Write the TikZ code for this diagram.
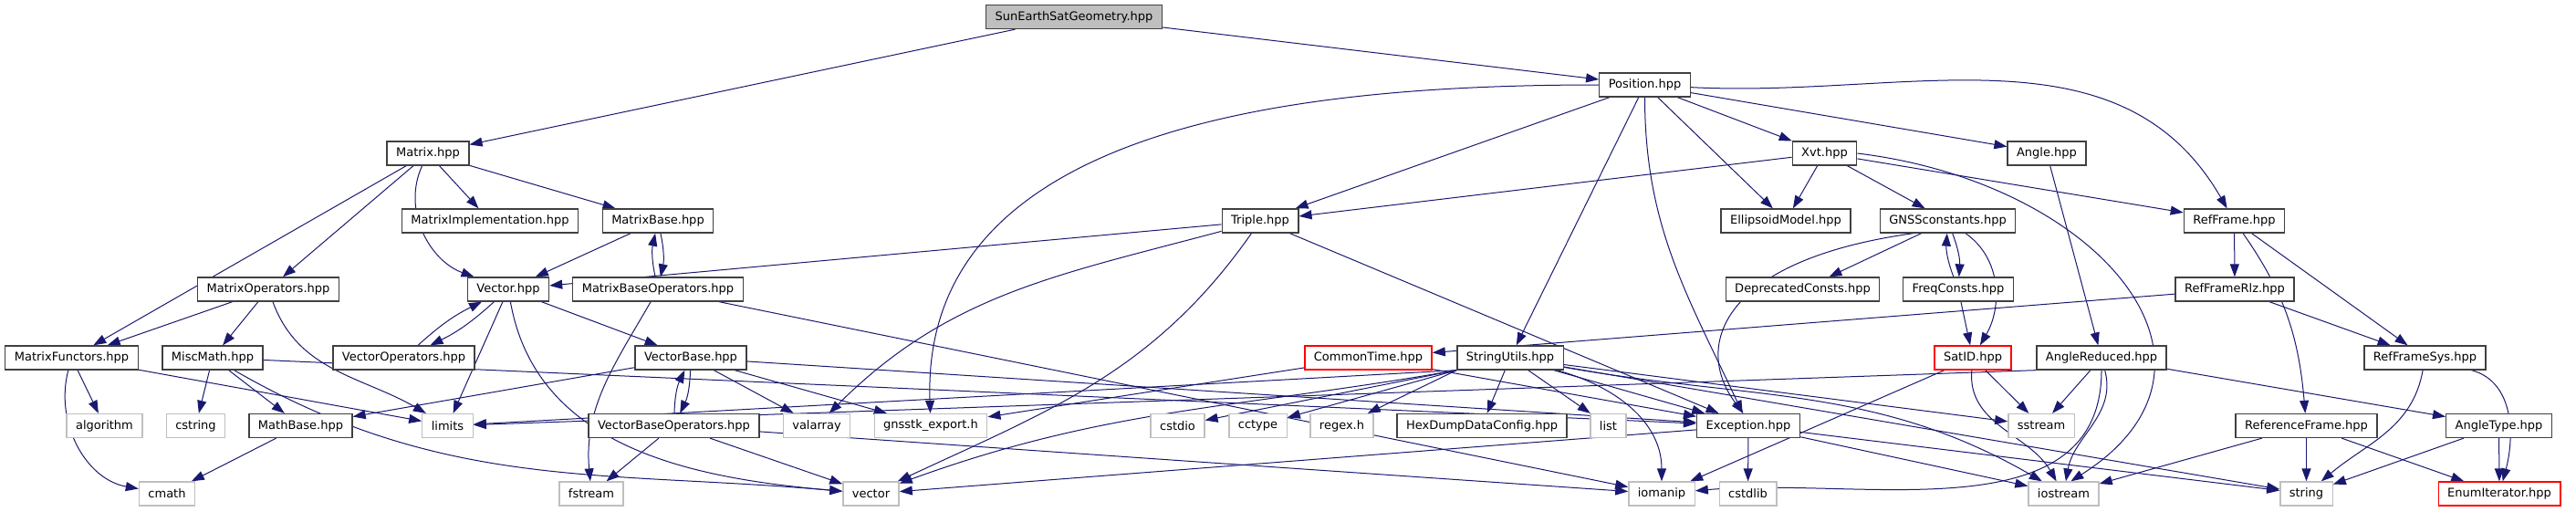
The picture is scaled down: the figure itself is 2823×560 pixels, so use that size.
\documentclass[tikz,border=0pt]{standalone}
\usepackage{fontspec}
\setmainfont{DejaVu Sans}
\usetikzlibrary{arrows.meta,backgrounds}
\definecolor{edgeblue}{HTML}{191970}
\definecolor{sysgray}{HTML}{BFBFBF}
\definecolor{boxgray}{HTML}{404040}
\tikzset{
  file/.style={draw=boxgray, line width=1.3pt, fill=white, minimum height=26pt,
    inner xsep=10pt, inner ysep=0pt, font=\fontsize{13}{15}\selectfont},
  hdr/.style={file},
  sys/.style={file, draw=sysgray},
  trunc/.style={file, draw=red},
  root/.style={file, fill=sysgray},
  dep/.style={draw=edgeblue, line width=1pt},
  deptip/.style={-{Triangle[length=14pt,width=10pt]}},
}
\begin{document}
\begin{tikzpicture}[x=1pt,y=1pt]
        \useasboundingbox (0,0) rectangle (2823,-560);

        % row 0 and 1
        \node[root] (sunearth) at (1177,-18.5) {SunEarthSatGeometry.hpp};
        \node[hdr] (position) at (1802.5,-93) {Position.hpp};

        % row 2
        \node[hdr] (matrix) at (469,-168) {Matrix.hpp};
        \node[hdr] (xvt)    at (1999.5,-168) {Xvt.hpp};
        \node[hdr] (angle)  at (2243,-168) {Angle.hpp};

        % row 3
        \node[hdr] (matrimpl)  at (537,-242)    {MatrixImplementation.hpp};
        \node[hdr] (matrbase)  at (721,-242)    {MatrixBase.hpp};
        \node[hdr] (triple)    at (1381,-242)   {Triple.hpp};
        \node[hdr] (ellipsoid) at (1957,-242)   {EllipsoidModel.hpp};
        \node[hdr] (gnssconst) at (2134.5,-242) {GNSSconstants.hpp};
        \node[hdr] (refframe)  at (2448.5,-242) {RefFrame.hpp};

        % row 4
        \node[hdr] (matrops)     at (294,-317)    {MatrixOperators.hpp};
        \node[hdr] (vector)      at (557,-317)    {Vector.hpp};
        \node[hdr] (matrbaseops) at (721,-317)    {MatrixBaseOperators.hpp};
        \node[hdr] (deprecated)  at (1975.5,-317) {DeprecatedConsts.hpp};
        \node[hdr] (freqconsts)  at (2146,-317)   {FreqConsts.hpp};
        \node[hdr] (rfrlz)       at (2449,-317)   {RefFrameRlz.hpp};

        % row 5
        \node[hdr]   (matrfunct)  at (78.5,-392)   {MatrixFunctors.hpp};
        \node[hdr]   (miscmath)   at (233,-392)    {MiscMath.hpp};
        \node[hdr]   (vectops)    at (442.5,-392)  {VectorOperators.hpp};
        \node[hdr]   (vectbase)   at (757,-392)    {VectorBase.hpp};
        \node[trunc] (commontime) at (1499.5,-392) {CommonTime.hpp};
        \node[hdr]   (strutils)   at (1655,-392)   {StringUtils.hpp};
        \node[trunc] (satid)      at (2162,-392)   {SatID.hpp};
        \node[hdr]   (anglered)   at (2303,-392)   {AngleReduced.hpp};
        \node[hdr]   (rfsys)      at (2657.5,-392) {RefFrameSys.hpp};

        % row 6
        \node[sys] (algorithm)   at (114.5,-466.5)  {algorithm};
        \node[sys] (cstring)     at (214.5,-466.5)  {cstring};
        \node[hdr] (mathbase)    at (329.5,-466.5)  {MathBase.hpp};
        \node[sys] (limits)      at (490.5,-466.5)  {limits};
        \node[hdr] (vectbaseops) at (738.5,-466.5)  {VectorBaseOperators.hpp};
        \node[sys] (valarray)    at (895,-466.5)    {valarray};
        \node[sys] (gexport)     at (1020,-466.5)   {gnsstk\_export.h};
        \node[sys] (cstdio)      at (1290.5,-466.5) {cstdio};
        \node[sys] (cctype)      at (1378.5,-466.5) {cctype};
        \node[sys] (regexh)      at (1470.5,-466.5) {regex.h};
        \node[hdr] (hexdump)     at (1624,-466.5)   {HexDumpDataConfig.hpp};
        \node[sys] (list)        at (1762.5,-466.5) {list};
        \node[hdr] (exception)   at (1916,-466.5)   {Exception.hpp};
        \node[sys] (sstream)     at (2237,-466.5)   {sstream};
        \node[hdr] (refframeh)   at (2527.5,-466.5) {ReferenceFrame.hpp};
        \node[hdr] (angletype)   at (2738.5,-466.5) {AngleType.hpp};

        % row 7
        \node[sys]   (cmath)     at (183,-541)    {cmath};
        \node[sys]   (fstream)   at (648,-541)    {fstream};
        \node[sys]   (stdvector) at (954.5,-541)  {vector};
        \node[sys]   (iomanip)   at (1821,-541)   {iomanip};
        \node[sys]   (cstdlib)   at (1915.5,-541) {cstdlib};
        \node[sys]   (iostream)  at (2261.5,-541) {iostream};
        \node[sys]   (string)    at (2527.5,-541) {string};
        \node[trunc] (enumiter)  at (2739,-541)   {EnumIterator.hpp};

        \begin{scope}[on background layer, deptip, every edge/.style={dep}]
          \path (sunearth) edge (matrix) edge (position);
          \path (position) edge (triple) edge (strutils) edge (ellipsoid)
            edge (xvt) edge (angle)
            edge[out=180,in=92] (gexport)
            edge[out=-90,in=115] (exception)
            edge[out=-3,in=120] (refframe);
          \path (matrix) edge (matrfunct) edge (matrops) edge (matrimpl)
            edge (matrbase) edge[out=-115,in=160] (vector);
          \path (xvt) edge (triple) edge (ellipsoid) edge (gnssconst) edge (refframe);
          \path (xvt.east) edge[to path={.. controls (2300,-200) and (2470,-400) .. (\tikztotarget)}] (iostream.60);
          \path (angle) edge (anglered);
          \path (matrbase) edge (vector) edge[bend left=12] (matrbaseops);
          \path (matrbaseops) edge[bend left=12] (matrbase)
            edge[out=-120,in=95] (fstream) edge (iomanip);
          \path (triple) edge (vector) edge (exception)
            edge[out=-165,in=45] (valarray) edge[out=-125,in=25] (stdvector);
          \path (gnssconst) edge (deprecated) edge[bend left=12] (freqconsts)
            edge[out=-35,in=60] (satid);
          \path (gnssconst.200) edge[to path={.. controls (1885,-285) and (1855,-380) .. (\tikztotarget)}] (exception.112);
          \path (freqconsts) edge[bend left=12] (gnssconst) edge (satid);
          \path (refframe) edge (rfrlz) edge (rfsys) edge[out=-55,in=95] (refframeh);
          \path (rfrlz) edge (commontime) edge (rfsys);
          \path (matrops) edge (matrfunct) edge (miscmath) edge[out=-70,in=150] (limits);
          \path (vector) edge[bend left=8] (vectops) edge (limits) edge (vectbase)
            edge[out=-80,in=175] (stdvector);
          \path (vectops) edge[bend left=8] (vector);
          \path (matrfunct) edge (algorithm) edge (limits) edge[out=-105,in=170] (cmath);
          \path (miscmath) edge (cstring) edge (mathbase) edge (exception)
            edge[out=-30,in=175] (stdvector);
          \path (mathbase) edge (cmath);
          \path (vectbase) edge (mathbase) edge[bend left=12] (vectbaseops)
            edge (valarray) edge (gexport) edge (exception);
          \path (vectbaseops) edge[bend left=12] (vectbase) edge (fstream)
            edge (stdvector) edge (iomanip);
          \path (commontime) edge (gexport) edge (exception);
          \path (strutils.south west) edge (limits) edge (cstdio) edge (cctype)
            edge (regexh) edge[out=-170,in=20] (stdvector);
          \path (strutils) edge (hexdump) edge (list) edge (exception) edge (sstream)
            edge[out=-10,in=150] (iostream) edge (string)
            edge[out=-15,in=90] (iomanip);
          \path (satid) edge (sstream) edge (iomanip) edge[out=-95,in=120] (iostream);
          \path (anglered) edge (angletype) edge (sstream)
            edge[out=-75,in=80] (iostream) edge[out=-90,in=5] (iomanip);
          \path (anglered.south west) edge (limits);
          \path (rfsys) edge[out=-100,in=40] (string) edge[out=-15,in=75] (enumiter);
          \path (refframeh) edge (iostream) edge (string) edge (enumiter);
          \path (angletype) edge (string) edge (enumiter);
          \path (exception) edge (cstdlib) edge (iostream) edge (string) edge (stdvector);
        \end{scope}

      \end{tikzpicture}
\end{document}
